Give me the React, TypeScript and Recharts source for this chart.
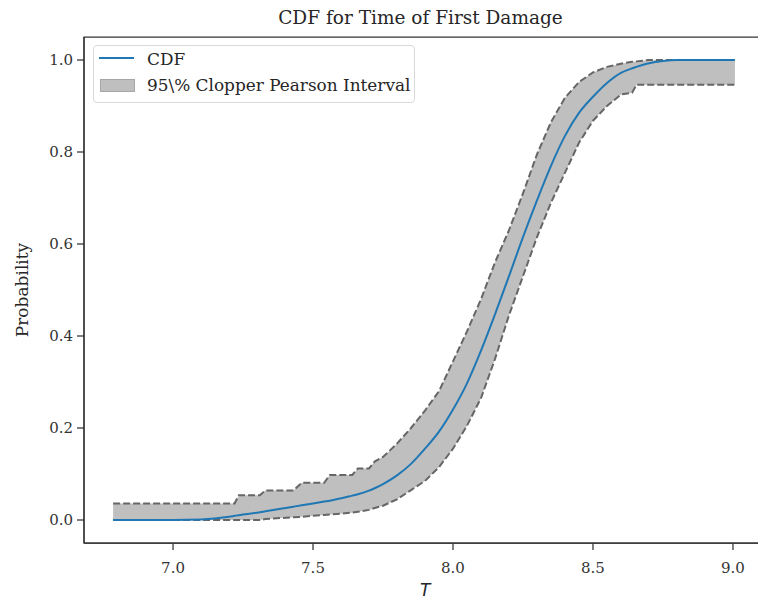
import { ComposedChart, Area, Line, XAxis, YAxis, ReferenceArea } from 'recharts'

// values
const times = [6.786, 6.9, 7.0, 7.1, 7.2, 7.22, 7.235, 7.31, 7.33, 7.43, 7.46, 7.54, 7.56, 7.64, 7.66, 7.70, 7.72, 7.75, 7.80, 7.85, 7.90, 7.95, 8.00, 8.05, 8.10, 8.15, 8.20, 8.25, 8.30, 8.35, 8.40, 8.45, 8.50, 8.55, 8.60, 8.64, 8.655, 8.70, 8.75, 8.80, 8.90, 9.007]
const cdfValues = [0, 0, 0, 0.001, 0.007, 0.009, 0.0105, 0.017, 0.019, 0.029, 0.032, 0.040, 0.042, 0.053, 0.056, 0.064, 0.069, 0.078, 0.097, 0.122, 0.155, 0.192, 0.240, 0.297, 0.368, 0.447, 0.530, 0.615, 0.695, 0.770, 0.835, 0.885, 0.920, 0.950, 0.972, 0.982, 0.985, 0.993, 0.998, 1.0, 1.0, 1.0]
const lowerValues = [0, 0, 0, 0, 0, 0, 0, 0, 0.002, 0.006, 0.007, 0.011, 0.012, 0.016, 0.018, 0.022, 0.026, 0.031, 0.045, 0.065, 0.085, 0.115, 0.155, 0.205, 0.265, 0.350, 0.445, 0.530, 0.615, 0.690, 0.755, 0.820, 0.868, 0.900, 0.925, 0.929, 0.946, 0.946, 0.946, 0.946, 0.946, 0.946]
const upperValues = [0.036, 0.036, 0.036, 0.036, 0.036, 0.036, 0.054, 0.054, 0.064, 0.064, 0.081, 0.081, 0.098, 0.098, 0.112, 0.112, 0.127, 0.137, 0.166, 0.200, 0.238, 0.280, 0.345, 0.410, 0.480, 0.560, 0.630, 0.710, 0.795, 0.865, 0.918, 0.952, 0.973, 0.985, 0.992, 0.996, 0.997, 1.0, 1.0, 1.0, 1.0, 1.0]

const xTicks = [7.0, 7.5, 8.0, 8.5, 9.0]
const yTicks = [0, 0.2, 0.4, 0.6, 0.8, 1.0]
const xDomain: [number, number] = [6.682, 9.118]
const yDomain: [number, number] = [-0.05, 1.05]

const data = times.map((t, i) => ({
    t,
    cdf: cdfValues[i],
    lo: lowerValues[i],
    hi: upperValues[i],
    band: [lowerValues[i], upperValues[i]],
}))

const serif = '"DejaVu Serif", serif'
const spine = '#333333'
const tickStyle = { fontFamily: serif, fontSize: 15, fill: '#333333' }

const App = () => {
    return (
        <div style={{ position: 'absolute', left: 0, top: 0, width: 758, height: 601, overflow: 'hidden', background: '#fff' }}>
            <div style={{ position: 'absolute', top: 5, left: 84, width: 673, textAlign: 'center', fontFamily: serif, fontSize: 18.5, color: '#262626', lineHeight: '26px' }}>
                CDF for Time of First Damage
            </div>

            {/* the right spine sits just past the picture's edge, as in the original */}
            <ComposedChart width={767} height={601} data={data}
                margin={{ top: 37, right: 1, left: 0, bottom: 0 }}>
                <XAxis dataKey="t" type="number" domain={xDomain} ticks={xTicks} allowDataOverflow
                    tickFormatter={(v: number) => v.toFixed(1)} height={58}
                    tick={tickStyle} tickSize={7} tickMargin={12}
                    axisLine={{ stroke: spine, strokeWidth: 1.25 }} tickLine={{ stroke: spine, strokeWidth: 1.25 }} />
                <YAxis type="number" domain={yDomain} ticks={yTicks} allowDataOverflow width={84}
                    tickFormatter={(v: number) => v.toFixed(1)}
                    tick={tickStyle} tickSize={7} tickMargin={4}
                    axisLine={{ stroke: spine, strokeWidth: 1.25 }} tickLine={{ stroke: spine, strokeWidth: 1.25 }} />
                <Area dataKey="band" type="linear" fill="#bfbfbf" fillOpacity={1} stroke="none" isAnimationActive={false} />
                <Line dataKey="lo" type="linear" stroke="#666666" strokeWidth={2} strokeDasharray="7 3" dot={false} isAnimationActive={false} />
                <Line dataKey="hi" type="linear" stroke="#666666" strokeWidth={2} strokeDasharray="7 3" dot={false} isAnimationActive={false} />
                <Line dataKey="cdf" type="monotone" stroke="#1f77b4" strokeWidth={2} dot={false} isAnimationActive={false} />
                <ReferenceArea x1={xDomain[0]} x2={xDomain[1]} y1={yDomain[0]} y2={yDomain[1]}
                    fill="none" stroke={spine} strokeWidth={1.25} />
            </ComposedChart>

            <div style={{ position: 'absolute', left: 6, top: 290, transform: 'translate(-50%, -50%) rotate(-90deg)', marginLeft: 16, fontFamily: serif, fontSize: 17, color: '#262626', whiteSpace: 'nowrap' }}>
                Probability
            </div>
            <div style={{ position: 'absolute', left: 420, top: 580, fontFamily: '"DejaVu Sans", sans-serif', fontStyle: 'italic', fontSize: 17, color: '#262626' }}>
                T
            </div>

            <div style={{ position: 'absolute', left: 93, top: 45, width: 320, height: 56, border: '1px solid #d9d9d9', borderRadius: 4, background: 'rgba(255,255,255,0.8)', fontFamily: serif, fontSize: 16.9, color: '#262626' }}>
                <div style={{ position: 'absolute', left: 5, top: 11, width: 35, height: 2, background: '#1f77b4' }} />
                <div style={{ position: 'absolute', left: 53, top: 1, lineHeight: '24px' }}>CDF</div>
                <div style={{ position: 'absolute', left: 6, top: 33, width: 33, height: 11, background: '#bfbfbf', border: '1px solid #a6a6a6' }} />
                <div style={{ position: 'absolute', left: 53, top: 27, lineHeight: '24px', whiteSpace: 'nowrap' }}>95\% Clopper Pearson Interval</div>
            </div>
        </div>
    )
}

export default App
